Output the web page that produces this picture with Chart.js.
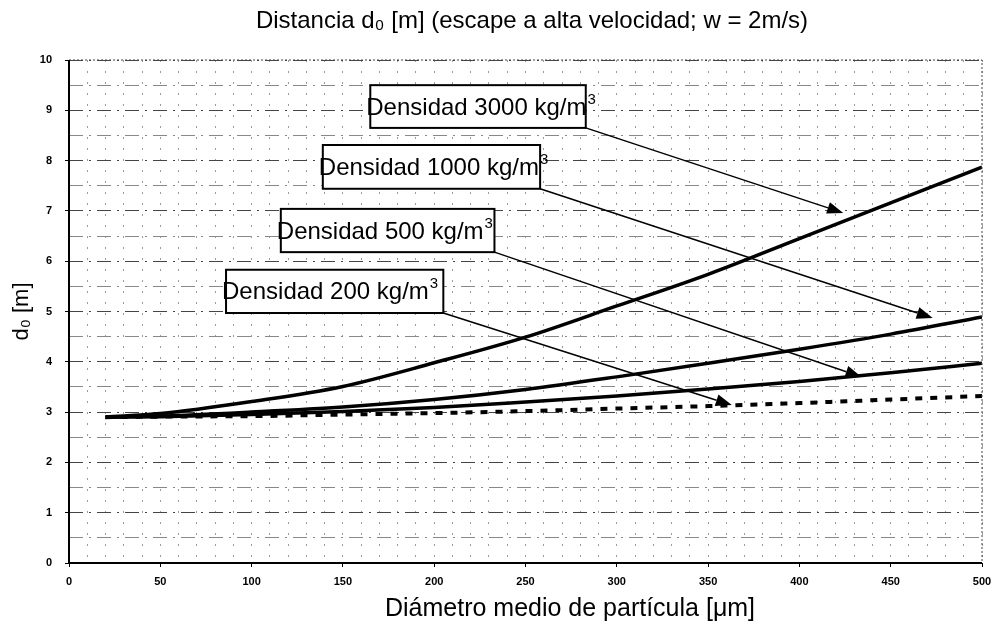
<!DOCTYPE html>
<html>
<head>
<meta charset="utf-8">
<script src="https://cdn.jsdelivr.net/npm/chart.js@4"></script>
<style>
    html, body { margin: 0; padding: 0; background: #fff; }
</style>
</head>
<body>
<canvas id="grafico" width="995" height="642"></canvas>
<script>
// Diámetro medio de partícula [µm]
const diametros = [20, 50, 100, 150, 200, 250, 300, 350, 400, 450, 500];
// Distancia d0 [m] para cada densidad
const dens3000 = [2.90, 2.97, 3.21, 3.51, 3.98, 4.49, 5.11, 5.74, 6.45, 7.16, 7.87];
const dens1000 = [2.90, 2.92, 3.00, 3.10, 3.25, 3.45, 3.70, 3.97, 4.25, 4.55, 4.89];
const dens500  = [2.90, 2.91, 2.95, 3.01, 3.09, 3.20, 3.32, 3.46, 3.61, 3.78, 3.97];
const dens200  = [2.90, 2.91, 2.92, 2.95, 2.98, 3.02, 3.07, 3.12, 3.18, 3.25, 3.32];

const etiquetas = ['Densidad 3000 kg/m', 'Densidad 1000 kg/m', 'Densidad 500 kg/m', 'Densidad 200 kg/m'];
const titulo = 'Distancia d₀ [m] (escape a alta velocidad; w = 2m/s)';
const tituloX = 'Diámetro medio de partícula [μm]';

// cajas de texto y puntas de flecha (en unidades de los ejes)
const cajas = [
    { x0: 165, x1: 283, yTop: 9.50, yBot: 8.65, tipX: 424, tipY: 6.96 },
    { x0: 139, x1: 258, yTop: 8.31, yBot: 7.44, tipX: 473, tipY: 4.87 },
    { x0: 116, x1: 233, yTop: 7.04, yBot: 6.18, tipX: 434, tipY: 3.70 },
    { x0: 86,  x1: 205, yTop: 5.83, yBot: 4.97, tipX: 363, tipY: 3.14 }
];

const fuente = '"Liberation Sans", Arial, sans-serif';

const puntos = serie => diametros.map((d, i) => ({ x: d, y: serie[i] }));

const notas = {
    id: 'notas',
    afterDatasetsDraw(chart) {
        const { ctx, chartArea: a, scales: { x, y } } = chart;
        ctx.save();

        // marco del área
        ctx.setLineDash([2, 2]);
        ctx.strokeStyle = '#444';
        ctx.lineWidth = 1;
        ctx.beginPath();
        ctx.moveTo(a.left, a.top); ctx.lineTo(a.right, a.top); ctx.lineTo(a.right, a.bottom);
        ctx.stroke();
        ctx.setLineDash([]);
        ctx.strokeStyle = '#000';
        ctx.lineWidth = 2;
        ctx.beginPath();
        ctx.moveTo(a.left, a.top); ctx.lineTo(a.left, a.bottom); ctx.lineTo(a.right, a.bottom);
        ctx.stroke();

        cajas.forEach((c, i) => {
            const l = x.getPixelForValue(c.x0), r = x.getPixelForValue(c.x1);
            const t = y.getPixelForValue(c.yTop), b = y.getPixelForValue(c.yBot);
            const tx = x.getPixelForValue(c.tipX), ty = y.getPixelForValue(c.tipY);

            // flecha
            const ang = Math.atan2(ty - b, tx - r);
            const largo = 16, ancho = 6;
            const bx = tx - largo * Math.cos(ang), by = ty - largo * Math.sin(ang);
            ctx.strokeStyle = '#000';
            ctx.lineWidth = 1.5;
            ctx.beginPath();
            ctx.moveTo(r, b); ctx.lineTo(bx, by);
            ctx.stroke();
            ctx.fillStyle = '#000';
            ctx.beginPath();
            ctx.moveTo(tx, ty);
            ctx.lineTo(bx + ancho * Math.sin(ang), by - ancho * Math.cos(ang));
            ctx.lineTo(bx - ancho * Math.sin(ang), by + ancho * Math.cos(ang));
            ctx.closePath();
            ctx.fill();

            // caja
            ctx.fillStyle = '#fff';
            ctx.fillRect(l, t, r - l, b - t);
            ctx.lineWidth = 2;
            ctx.strokeRect(l, t, r - l, b - t);

            // texto con superíndice
            const base = (t + b) / 2 + 8;
            ctx.fillStyle = '#000';
            ctx.textAlign = 'left';
            ctx.textBaseline = 'alphabetic';
            ctx.font = '24px ' + fuente;
            const tx0 = l - 4;
            ctx.fillText(etiquetas[i], tx0, base);
            const w = ctx.measureText(etiquetas[i]).width;
            ctx.font = '15px ' + fuente;
            ctx.fillText('3', tx0 + w + 1, base - 11);
        });

        // títulos
        ctx.textAlign = 'center';
        ctx.textBaseline = 'middle';
        ctx.fillStyle = '#000';
        ctx.font = '24px ' + fuente;
        ctx.fillText(titulo, 532, 21);
        ctx.font = '25px ' + fuente;
        ctx.fillText(tituloX, 570, 609);
        ctx.restore();
    }
};

new Chart(document.getElementById('grafico'), {
    type: 'line',
    data: {
        datasets: [
            { label: etiquetas[0], data: puntos(dens3000), borderColor: '#000', borderWidth: 3.5 },
            { label: etiquetas[1], data: puntos(dens1000), borderColor: '#000', borderWidth: 3.5 },
            { label: etiquetas[2], data: puntos(dens500), borderColor: '#000', borderWidth: 3.5 },
            { label: etiquetas[3], data: puntos(dens200), borderColor: '#000', borderWidth: 4, borderDash: [7, 8] }
        ]
    },
    options: {
        responsive: false,
        devicePixelRatio: 1,
        animation: false,
        layout: { padding: { left: 0, right: 13, top: 60, bottom: 0 } },
        elements: {
            point: { radius: 0 },
            line: { cubicInterpolationMode: 'monotone', fill: false }
        },
        plugins: {
            legend: { display: false },
            tooltip: { enabled: false },
            title: { display: false }
        },
        scales: {
            x: {
                type: 'linear',
                min: 0,
                max: 500,
                afterFit: s => { s.height = 79; s.paddingLeft = 0; s.paddingRight = 0; },
                ticks: {
                    stepSize: 10,
                    autoSkip: false,
                    maxRotation: 0,
                    padding: 8,
                    color: '#000',
                    font: { family: fuente, size: 11, weight: 'bold' },
                    callback: v => (v % 50 === 0 ? v : '')
                },
                grid: {
                    color: '#9a9a9a',
                    lineWidth: 1,
                    tickLength: 4,
                    tickColor: ctx => (ctx.tick && ctx.tick.value % 50 === 0 ? '#000' : 'rgba(0,0,0,0)')
                },
                border: { display: false, dash: [2, 9] }
            },
            y: {
                min: 0,
                max: 10,
                afterFit: s => { s.width = 69; },
                ticks: {
                    stepSize: 0.5,
                    autoSkip: false,
                    padding: 13,
                    color: '#000',
                    font: { family: fuente, size: 11, weight: 'bold' },
                    callback: v => (Number.isInteger(v) ? v : '')
                },
                grid: {
                    color: ctx => (ctx.tick && Number.isInteger(ctx.tick.value) ? '#444' : '#888'),
                    lineWidth: 1,
                    tickLength: 4,
                    tickColor: ctx => (ctx.tick && Number.isInteger(ctx.tick.value) ? '#000' : 'rgba(0,0,0,0)')
                },
                border: { display: false, dash: [14, 6, 2, 6] },
                title: {
                    display: true,
                    text: 'd₀ [m]',
                    color: '#000',
                    font: { family: fuente, size: 22 },
                    padding: { top: 9, bottom: 0 }
                }
            }
        }
    },
    plugins: [notas]
});
</script>
</body>
</html>
